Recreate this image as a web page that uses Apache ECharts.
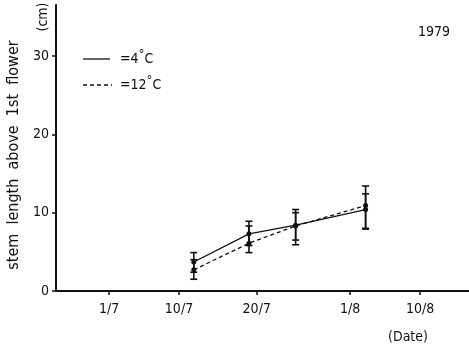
<!DOCTYPE html>
<html lang="en">
<head>
  <meta charset="UTF-8">
  <title>stem length 1979</title>
  <style>
    * { margin: 0; padding: 0; }
    body { background: #fff; }
    #main { width: 469px; height: 348px; }
  </style>
</head>
<body>
  <div id="main"></div>
  <script src="https://cdn.jsdelivr.net/npm/echarts@6/dist/echarts.min.js"></script>
  <script>
    // days counted from 1 July (1/7 = 0)
    var days = [10.9, 18, 24, 33];
    var cold = [3.7, 7.3, 8.4, 10.4];        // 4 C
    var coldLow = [2.4, 5.8, 6.5, 8.0];
    var coldHigh = [4.9, 8.9, 10.4, 13.4];
    var warm = [2.7, 6.1, 8.3, 10.9];        // 12 C
    var warmLow = [1.5, 4.9, 5.9, 7.9];
    var warmHigh = [4.0, 8.3, 10.0, 12.4];
    var tickDays = [0, 9, 19, 31, 40];
    var tickLabels = ['1/7', '10/7', '20/7', '1/8', '10/8'];
    var yTicks = [0, 10, 20, 30];

    var FONT = '"Liberation Sans Narrow", "DejaVu Sans Condensed", sans-serif';

    function pairs(xs, ys) {
      return xs.map(function (x, i) { return [x, ys[i]]; });
    }
    function bars(xs, lo, hi) {
      return xs.map(function (x, i) { return [x, lo[i], hi[i]]; });
    }
    // vertical error bar with caps
    function errRender(params, api) {
      var p1 = api.coord([api.value(0), api.value(1)]);
      var p2 = api.coord([api.value(0), api.value(2)]);
      var w = 3.5;
      var st = { stroke: '#111', lineWidth: 1.6 };
      return {
        type: 'group',
        children: [
          { type: 'line', shape: { x1: p1[0], y1: p1[1], x2: p2[0], y2: p2[1] }, style: st },
          { type: 'line', shape: { x1: p1[0] - w, y1: p1[1], x2: p1[0] + w, y2: p1[1] }, style: st },
          { type: 'line', shape: { x1: p2[0] - w, y1: p2[1], x2: p2[0] + w, y2: p2[1] }, style: st }
        ]
      };
    }

    var myChart = echarts.init(document.getElementById('main'));
    var option = {
      animation: false,
      backgroundColor: '#fff',
      grid: { left: 56, right: 0, top: 5, bottom: 57 },
      xAxis: {
        type: 'value',
        min: -6.82,
        max: 46.3,
        splitLine: { show: false },
        axisLine: { onZero: false, lineStyle: { color: '#111', width: 2 } },
        axisTick: { length: 4, customValues: tickDays, lineStyle: { color: '#111', width: 1.5 } },
        axisLabel: {
          customValues: tickDays,
          margin: 11,
          color: '#111',
          fontFamily: FONT,
          fontSize: 14,
          formatter: function (v) { return tickLabels[tickDays.indexOf(v)]; }
        }
      },
      yAxis: {
        type: 'value',
        min: 0,
        max: 36.5,
        splitLine: { show: false },
        axisLine: { onZero: false, lineStyle: { color: '#111', width: 2 } },
        axisTick: { length: 4, customValues: yTicks, lineStyle: { color: '#111', width: 1.5 } },
        axisLabel: {
          customValues: yTicks,
          margin: 7,
          color: '#111',
          fontFamily: FONT,
          fontSize: 14
        }
      },
      series: [
        {
          name: '4C', type: 'line', data: pairs(days, cold),
          symbol: 'circle', symbolSize: 5, itemStyle: { color: '#111' },
          lineStyle: { color: '#111', width: 1.3, type: 'solid' }
        },
        {
          name: '12C', type: 'line', data: pairs(days, warm),
          symbol: 'circle', symbolSize: 5, itemStyle: { color: '#111' },
          lineStyle: { color: '#111', width: 1.3, type: [4, 3] }
        },
        { type: 'custom', renderItem: errRender, data: bars(days, coldLow, coldHigh), z: 3 },
        { type: 'custom', renderItem: errRender, data: bars(days, warmLow, warmHigh), z: 3 }
      ],
      graphic: [
        { type: 'text', x: 14, y: 155, rotation: Math.PI / 2,
          style: { text: 'stem  length  above  1st  flower', fontFamily: FONT, fontSize: 16, fill: '#111', align: 'center', verticalAlign: 'middle' } },
        { type: 'text', x: 43, y: 17, rotation: Math.PI / 2,
          style: { text: '(cm)', fontFamily: FONT, fontSize: 14, fill: '#111', align: 'center', verticalAlign: 'middle' } },
        { type: 'line', shape: { x1: 83, y1: 59, x2: 110, y2: 59 }, style: { stroke: '#111', lineWidth: 1.3 } },
        { type: 'line', shape: { x1: 83, y1: 85, x2: 112, y2: 85 }, style: { stroke: '#111', lineWidth: 1.3, lineDash: [4, 3] } },
        { type: 'text', x: 120, y: 59,
          style: { text: '=4{s|°}C', fontFamily: FONT, fontSize: 14, fill: '#111', verticalAlign: 'middle',
            rich: { s: { fontSize: 13, fontFamily: FONT, padding: [0, 0, 8, 0], fill: '#111' } } } },
        { type: 'text', x: 120, y: 85,
          style: { text: '=12{s|°}C', fontFamily: FONT, fontSize: 14, fill: '#111', verticalAlign: 'middle',
            rich: { s: { fontSize: 13, fontFamily: FONT, padding: [0, 0, 8, 0], fill: '#111' } } } },
        { type: 'text', x: 418, y: 32,
          style: { text: '1979', fontFamily: FONT, fontSize: 14, fill: '#111', verticalAlign: 'middle' } },
        { type: 'text', x: 408, y: 337,
          style: { text: '(Date)', fontFamily: FONT, fontSize: 14, fill: '#111', align: 'center', verticalAlign: 'middle' } }
      ]
    };
    myChart.setOption(option);
  </script>
</body>
</html>
